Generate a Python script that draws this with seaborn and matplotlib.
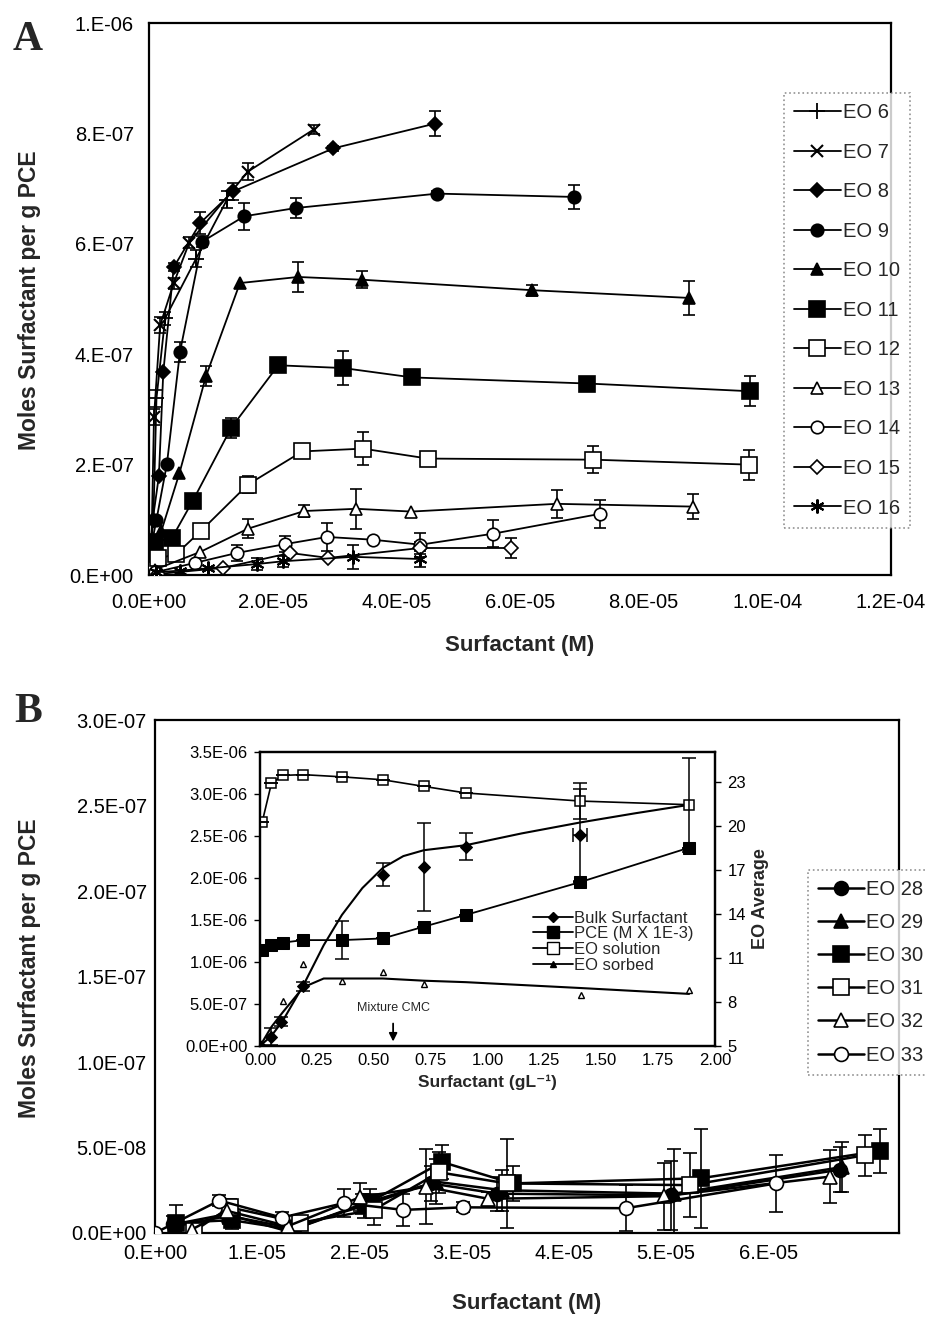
import numpy as np
import pandas as pd
import matplotlib
matplotlib.use("Agg")
import matplotlib.pyplot as plt
from matplotlib.lines import Line2D
import seaborn as sns

# ---------------- Panel A data (x in 1e-6 M, y in 1e-7 mol/g, err in 1e-7) ----------------
eo6_x = [0.3, 0.7, 1.2, 2.6, 7.6, 12.6]
eo6_y = [0.5, 1.0, 3.2, 4.65, 5.73, 6.8]
eo6_e = [0, 0, 0.15, 0.12, 0.15, 0.15]

eo7_x = [0.4, 0.8, 1.8, 4.0, 6.5, 16.0, 26.6]
eo7_y = [0.6, 2.86, 4.53, 5.29, 6.02, 7.31, 8.07]
eo7_e = [0, 0.15, 0.15, 0.1, 0.1, 0.15, 0.08]

eo8_x = [0.2, 0.6, 1.6, 2.3, 4.0, 8.3, 13.6, 29.8, 46.3]
eo8_y = [0.5, 1.0, 1.8, 3.67, 5.58, 6.38, 6.95, 7.73, 8.18]
eo8_e = [0, 0, 0, 0, 0.08, 0.2, 0.15, 0.05, 0.22]

eo9_x = [0.5, 1.2, 2.9, 5.0, 8.6, 15.4, 23.8, 46.6, 68.8]
eo9_y = [0.6, 1.0, 2.02, 4.04, 6.04, 6.5, 6.65, 6.91, 6.85]
eo9_e = [0, 0, 0, 0.18, 0.1, 0.24, 0.18, 0.04, 0.22]

eo10_x = [0.8, 2.0, 4.9, 9.2, 14.7, 24.1, 34.5, 62.0, 87.4]
eo10_y = [0.3, 0.8, 1.84, 3.6, 5.29, 5.4, 5.35, 5.16, 5.02]
eo10_e = [0, 0, 0, 0.18, 0, 0.27, 0.15, 0.1, 0.3]

eo11_x = [0.3, 1.0, 3.7, 7.1, 13.3, 20.9, 31.4, 42.6, 70.9, 97.2]
eo11_y = [0.2, 0.6, 0.67, 1.35, 2.67, 3.8, 3.75, 3.58, 3.47, 3.33]
eo11_e = [0, 0, 0, 0, 0.18, 0, 0.3, 0, 0.1, 0.27]

eo12_x = [0.5, 1.5, 4.4, 8.4, 16.0, 24.8, 34.6, 45.1, 71.8, 97.1]
eo12_y = [0.1, 0.3, 0.38, 0.8, 1.64, 2.24, 2.29, 2.11, 2.09, 2.0]
eo12_e = [0, 0, 0, 0, 0.15, 0, 0.3, 0, 0.24, 0.27]

eo13_x = [1.0, 8.3, 16.0, 25.1, 33.5, 42.4, 65.9, 88.0]
eo13_y = [0.1, 0.42, 0.84, 1.16, 1.2, 1.15, 1.29, 1.24]
eo13_e = [0, 0, 0.17, 0.1, 0.36, 0, 0.25, 0.22]

eo14_x = [1.0, 7.4, 14.2, 22.0, 28.8, 36.2, 43.9, 55.7, 73.0]
eo14_y = [0.05, 0.22, 0.4, 0.56, 0.69, 0.64, 0.55, 0.75, 1.11]
eo14_e = [0, 0, 0.15, 0.15, 0.25, 0, 0.22, 0.25, 0.25]

eo15_x = [1.5, 12.0, 22.8, 29.0, 43.9, 58.6]
eo15_y = [0.02, 0.13, 0.4, 0.31, 0.49, 0.49]
eo15_e = [0, 0, 0, 0, 0.1, 0.18]

eo16_x = [1.2, 5.0, 9.5, 17.5, 21.7, 33.0, 43.9]
eo16_y = [0.05, 0.08, 0.12, 0.2, 0.25, 0.33, 0.29]
eo16_e = [0, 0, 0, 0.1, 0.1, 0.22, 0.15]

# ---------------- Panel B data (x in 1e-6 M, y in 1e-8 mol/g) ----------------
eo28_x = [1.8, 7.0, 13.0, 20.3, 27.0, 33.5, 50.5, 67.0]
eo28_y = [0.5, 1.1, 0.1, 1.7, 2.9, 2.3, 2.2, 3.7]
eo28_e = [0.5, 0.4, 0.3, 0.6, 1.0, 1.0, 2.0, 1.3]

eo29_x = [2.0, 7.2, 13.3, 20.5, 27.5, 34.0, 50.8, 67.2]
eo29_y = [0.4, 1.0, 0.3, 1.6, 3.0, 2.5, 2.3, 3.85]
eo29_e = [0.5, 0.5, 0.4, 0.7, 1.3, 1.2, 2.6, 1.45]

eo30_x = [2.1, 7.5, 13.5, 21.0, 28.1, 35.0, 53.4, 70.9]
eo30_y = [0.6, 0.75, 0.2, 1.8, 4.15, 2.9, 3.2, 4.8]
eo30_e = [1.05, 0.5, 0.5, 0.8, 1.0, 1.0, 2.9, 1.3]

eo31_x = [3.8, 7.3, 14.2, 21.4, 27.8, 34.4, 52.4, 69.5]
eo31_y = [0.1, 1.5, 0.6, 1.35, 3.55, 2.9, 2.8, 4.55]
eo31_e = [0.3, 0.5, 0.4, 0.9, 1.2, 2.6, 1.85, 1.2]

eo32_x = [3.6, 7.0, 13.0, 20.1, 26.5, 32.6, 49.8, 66.1]
eo32_y = [0.2, 1.3, 0.4, 2.1, 2.7, 2.0, 2.15, 3.3]
eo32_e = [0.4, 0.4, 0.3, 0.8, 2.2, 0.4, 1.95, 1.55]

eo33_x = [0.0, 6.3, 12.4, 18.5, 24.3, 30.1, 46.1, 60.8]
eo33_y = [0.0, 1.9, 0.9, 1.75, 1.35, 1.5, 1.45, 2.9]
eo33_e = [0.0, 0.3, 0.3, 0.8, 0.95, 0.3, 1.35, 1.65]

# ---------------- Inset data (x in g/L) ----------------
bulk_x = [0.0, 0.05, 0.09, 0.19, 0.54, 0.72, 0.905, 1.407]
bulk_y = [0.0, 0.11, 0.29, 0.71, 2.04, 2.13, 2.37, 2.51]      # 1e-6
bulk_e = [0, 0.1, 0.05, 0.05, 0.14, 0.52, 0.16, 0.55]
bulk_line_x = [0.0, 0.05, 0.1, 0.19, 0.28, 0.36, 0.45, 0.54, 0.63, 0.72, 0.905, 1.15, 1.407, 1.65, 1.886]
bulk_line_y = [0.0, 0.12, 0.3, 0.72, 1.2, 1.56, 1.88, 2.12, 2.26, 2.33, 2.39, 2.53, 2.66, 2.77, 2.87]

pce_x = [0.01, 0.05, 0.1, 0.19, 0.36, 0.54, 0.72, 0.905, 1.407, 1.886]
pce_y = [1.14, 1.2, 1.23, 1.26, 1.26, 1.28, 1.42, 1.56, 1.95, 2.36]   # 1e-6
pce_e = [0, 0, 0, 0, 0.23, 0, 0, 0, 0, 0]

eosol_x = [0.01, 0.05, 0.1, 0.19, 0.36, 0.54, 0.72, 0.905, 1.407, 1.886]
eosol_y = [20.3, 22.9, 23.45, 23.5, 23.35, 23.15, 22.7, 22.25, 21.7, 21.45]
eosol_e = [0, 0, 0, 0, 0, 0, 0, 0, 1.25, 3.2]

eosorb_x = [0.1, 0.19, 0.36, 0.54, 0.72, 1.41, 1.886]
eosorb_y = [8.1, 10.6, 9.45, 10.05, 9.2, 8.5, 8.8]
eosorb_line_x = [0.0, 0.05, 0.1, 0.19, 0.28, 0.54, 0.72, 0.905, 1.41, 1.886]
eosorb_line_y = [5.0, 6.3, 7.3, 9.0, 9.6, 9.6, 9.45, 9.35, 8.95, 8.55]

cmc_x = 0.585

# ---------------- ticks ----------------
a_xticks = [0, 20, 40, 60, 80, 100, 120]
a_xlabels = ["0.0E+00", "2.0E-05", "4.0E-05", "6.0E-05", "8.0E-05", "1.0E-04", "1.2E-04"]
a_yticks = [0, 2, 4, 6, 8, 10]
a_ylabels = ["0.E+00", "2.E-07", "4.E-07", "6.E-07", "8.E-07", "1.E-06"]

b_xticks = [0, 10, 20, 30, 40, 50, 60]
b_xlabels = ["0.E+00", "1.E-05", "2.E-05", "3.E-05", "4.E-05", "5.E-05", "6.E-05"]
b_yticks = [0, 5, 10, 15, 20, 25, 30]
b_ylabels = ["0.0E+00", "5.0E-08", "1.0E-07", "1.5E-07", "2.0E-07", "2.5E-07", "3.0E-07"]

in_xticks = [0, 0.25, 0.5, 0.75, 1.0, 1.25, 1.5, 1.75, 2.0]
in_xlabels = ["0.00", "0.25", "0.50", "0.75", "1.00", "1.25", "1.50", "1.75", "2.00"]
in_yticks = [0, 0.5, 1.0, 1.5, 2.0, 2.5, 3.0, 3.5]
in_ylabels = ["0.0E+00", "5.0E-07", "1.0E-06", "1.5E-06", "2.0E-06", "2.5E-06", "3.0E-06", "3.5E-06"]
in_y2ticks = [5, 8, 11, 14, 17, 20, 23]

sns.set_theme(style="white")
plt.rcParams['font.family'] = ['Liberation Sans', 'DejaVu Sans']

fig = plt.figure(figsize=(9.28, 13.18), dpi=100)
axA = fig.add_axes([0.1606, 0.5637, 0.7996, 0.4188])
axB = fig.add_axes([0.167, 0.0645, 0.8017, 0.3892])
axI = fig.add_axes([0.2802, 0.2064, 0.4903, 0.2231])
axI2 = axI.twinx()

AST = (6, 2, 0)


def series(ax, x, y, e, marker, label, filled=True, ms=9, lw=1.3, ls='-', mew=1.2, cap=4):
    df = pd.DataFrame({'x': x, 'y': y})
    sns.lineplot(data=df, x='x', y='y', ax=ax, color='black', lw=lw, linestyle=ls,
                 marker=marker, markersize=ms,
                 markerfacecolor='black' if filled else 'white',
                 markeredgecolor='black', markeredgewidth=mew,
                 sort=False, estimator=None, legend=False, label=label, zorder=3)
    err = np.array(e, dtype=float)
    if err.any():
        m = err > 0
        ax.errorbar(np.array(x)[m], np.array(y)[m], yerr=err[m], fmt='none',
                    ecolor='black', elinewidth=1.2, capsize=cap, capthick=1.2, zorder=2)


# ---------------- Panel A ----------------
series(axA, eo6_x, eo6_y, eo6_e, '+', 'EO 6', ms=11, mew=1.3)
series(axA, eo7_x, eo7_y, eo7_e, 'x', 'EO 7', ms=8, mew=1.5)
series(axA, eo8_x, eo8_y, eo8_e, 'D', 'EO 8', ms=7)
series(axA, eo9_x, eo9_y, eo9_e, 'o', 'EO 9', ms=9)
series(axA, eo10_x, eo10_y, eo10_e, '^', 'EO 10', ms=9)
series(axA, eo11_x, eo11_y, eo11_e, 's', 'EO 11', ms=11)
series(axA, eo12_x, eo12_y, eo12_e, 's', 'EO 12', filled=False, ms=11)
series(axA, eo13_x, eo13_y, eo13_e, '^', 'EO 13', filled=False, ms=9)
series(axA, eo14_x, eo14_y, eo14_e, 'o', 'EO 14', filled=False, ms=9)
series(axA, eo15_x, eo15_y, eo15_e, 'D', 'EO 15', filled=False, ms=7)
series(axA, eo16_x, eo16_y, eo16_e, AST, 'EO 16', ms=10, mew=1.5)

axA.set_xlim(0, 120)
axA.set_ylim(0, 10)
axA.set_xticks(a_xticks)
axA.set_xticklabels(a_xlabels)
axA.set_yticks(a_yticks)
axA.set_yticklabels(a_ylabels)
axA.set_xlabel('')
axA.set_ylabel('')

# ---------------- Panel B ----------------
series(axB, eo28_x, eo28_y, eo28_e, 'o', 'EO 28', ms=10, lw=1.8, cap=5)
series(axB, eo29_x, eo29_y, eo29_e, '^', 'EO 29', ms=10, lw=1.8, cap=5)
series(axB, eo30_x, eo30_y, eo30_e, 's', 'EO 30', ms=11, lw=1.8, cap=5)
series(axB, eo31_x, eo31_y, eo31_e, 's', 'EO 31', filled=False, ms=11, lw=1.8, cap=5)
series(axB, eo32_x, eo32_y, eo32_e, '^', 'EO 32', filled=False, ms=10, lw=1.8, cap=5)
series(axB, eo33_x, eo33_y, eo33_e, 'o', 'EO 33', filled=False, ms=10, lw=1.8, cap=5)

axB.set_xlim(0, 72.8)
axB.set_ylim(0, 30)
axB.set_xticks(b_xticks)
axB.set_xticklabels(b_xlabels)
axB.set_yticks(b_yticks)
axB.set_yticklabels(b_ylabels)
axB.set_xlabel('')
axB.set_ylabel('')

# ---------------- Inset ----------------
sns.lineplot(x=bulk_line_x, y=bulk_line_y, ax=axI, color='black', lw=1.5,
             sort=False, estimator=None, legend=False)
sns.lineplot(x=bulk_x, y=bulk_y, ax=axI, color='black', lw=0, marker='D', markersize=6,
             markerfacecolor='black', markeredgecolor='black',
             sort=False, estimator=None, legend=False)
axI.errorbar(bulk_x, bulk_y, yerr=bulk_e, fmt='none', ecolor='black', elinewidth=1.1,
             capsize=5, capthick=1.1)
axI.errorbar([bulk_x[-1]], [bulk_y[-1]], xerr=[0.03], fmt='none', ecolor='black',
             elinewidth=1.1, capsize=5, capthick=1.1)
sns.lineplot(x=pce_x, y=pce_y, ax=axI, color='black', lw=1.3, marker='s', markersize=8,
             markerfacecolor='black', markeredgecolor='black',
             sort=False, estimator=None, legend=False)
axI.errorbar(pce_x, pce_y, yerr=pce_e, fmt='none', ecolor='black', elinewidth=1.1,
             capsize=5, capthick=1.1)

sns.lineplot(x=eosol_x, y=eosol_y, ax=axI2, color='black', lw=1.2, marker='s', markersize=7,
             markerfacecolor='white', markeredgecolor='black', markeredgewidth=1.1,
             sort=False, estimator=None, legend=False)
axI2.errorbar(eosol_x, eosol_y, yerr=eosol_e, fmt='none', ecolor='black', elinewidth=1.1,
              capsize=5, capthick=1.1)
sns.lineplot(x=eosorb_line_x, y=eosorb_line_y, ax=axI2, color='black', lw=1.5,
             sort=False, estimator=None, legend=False)
sns.lineplot(x=eosorb_x, y=eosorb_y, ax=axI2, color='black', lw=0, marker='^', markersize=5,
             markerfacecolor='white', markeredgecolor='black', markeredgewidth=1.0,
             sort=False, estimator=None, legend=False)

axI.set_xlim(0, 2)
axI.set_ylim(0, 3.5)
axI2.set_ylim(5, 25.05)
axI.set_xticks(in_xticks)
axI.set_xticklabels(in_xlabels)
axI.set_yticks(in_yticks)
axI.set_yticklabels(in_ylabels)
axI2.set_yticks(in_y2ticks)
axI2.set_yticklabels([str(t) for t in in_y2ticks])
axI.set_xlabel('Surfactant (gL\u207b\u00b9)', fontsize=12.5, fontweight='bold', labelpad=5)
axI2.set_ylabel('EO Average', fontsize=13, fontweight='bold', labelpad=4)
axI.set_ylabel('')
axI.set_facecolor('white')

axI.annotate('', xy=(cmc_x, 0.02), xytext=(cmc_x, 0.3),
             arrowprops=dict(arrowstyle='-|>', color='black', lw=1.3, mutation_scale=12))
axI.text(cmc_x, 0.38, 'Mixture CMC', ha='center', va='bottom', fontsize=9)

in_handles = [
    Line2D([], [], color='black', lw=1.3, marker='D', markersize=5, mfc='black', mec='black'),
    Line2D([], [], color='black', lw=1.3, marker='s', markersize=8, mfc='black', mec='black'),
    Line2D([], [], color='black', lw=1.3, marker='s', markersize=8, mfc='white', mec='black'),
    Line2D([], [], color='black', lw=1.3, marker='^', markersize=5, mfc='black', mec='black'),
]
in_labels = ['Bulk Surfactant', 'PCE (M X 1E-3)', 'EO solution', 'EO sorbed']
fig.legend(in_handles, in_labels, loc='upper left', bbox_to_anchor=(0.565, 0.3155),
           frameon=False, fontsize=12, handlelength=2.4, handletextpad=0.1,
           labelspacing=0.04, borderpad=0.0)

# ---------------- styling ----------------
for ax in (axA, axB, axI, axI2):
    for s in ax.spines.values():
        s.set_color('black')
        s.set_linewidth(1.6)
    ax.tick_params(axis='both', which='both', colors='black', length=0)

axA.tick_params(labelsize=14.5)
axA.tick_params(axis='x', pad=13)
axA.tick_params(axis='y', pad=11)
axB.tick_params(labelsize=14.5)
axB.tick_params(axis='x', pad=8)
axB.tick_params(axis='y', pad=6)
for ax in (axI, axI2):
    ax.tick_params(labelsize=12, pad=5)
axI.tick_params(axis='y', length=4, direction='out', width=1)
axI2.tick_params(axis='y', length=4, direction='out', width=1)

# legends
hA, lA = axA.get_legend_handles_labels()
legA = fig.legend(hA, lA, loc='upper left', bbox_to_anchor=(0.845, 0.9294),
                  fontsize=14.5, frameon=True, fancybox=False, handlelength=2.3,
                  handletextpad=0.1, labelspacing=1.02, borderpad=0.5, borderaxespad=0)
legA.get_frame().set_edgecolor('#777777')
legA.get_frame().set_linestyle(':')
legA.get_frame().set_linewidth(1.2)

hB, lB = axB.get_legend_handles_labels()
legB = fig.legend(hB, lB, loc='upper left', bbox_to_anchor=(0.8707, 0.3399),
                  fontsize=14.5, frameon=True, fancybox=False, handlelength=2.3,
                  handletextpad=0.1, labelspacing=0.7, borderpad=0.5, borderaxespad=0)
legB.get_frame().set_edgecolor('#777777')
legB.get_frame().set_linestyle(':')
legB.get_frame().set_linewidth(1.2)

# labels
fig.text(520 / 928, 1 - 646 / 1318, 'Surfactant (M)', ha='center', va='center',
         fontsize=16, fontweight='bold')
fig.text(527 / 928, 1 - 1303 / 1318, 'Surfactant (M)', ha='center', va='center',
         fontsize=16, fontweight='bold')
fig.text(30 / 928, 1 - 300 / 1318, 'Moles Surfactant per g PCE', ha='center', va='center',
         rotation=90, fontsize=16.5, fontweight='bold')
fig.text(30 / 928, 1 - 968 / 1318, 'Moles Surfactant per g PCE', ha='center', va='center',
         rotation=90, fontsize=16.5, fontweight='bold')
fig.text(28 / 928, 1 - 40 / 1318, 'A', ha='center', va='center', fontsize=30,
         fontweight='bold', family=['Liberation Serif', 'DejaVu Serif'])
fig.text(28 / 928, 1 - 712 / 1318, 'B', ha='center', va='center', fontsize=30,
         fontweight='bold', family=['Liberation Serif', 'DejaVu Serif'])

fig.savefig('out.png', dpi=100, facecolor='white')
